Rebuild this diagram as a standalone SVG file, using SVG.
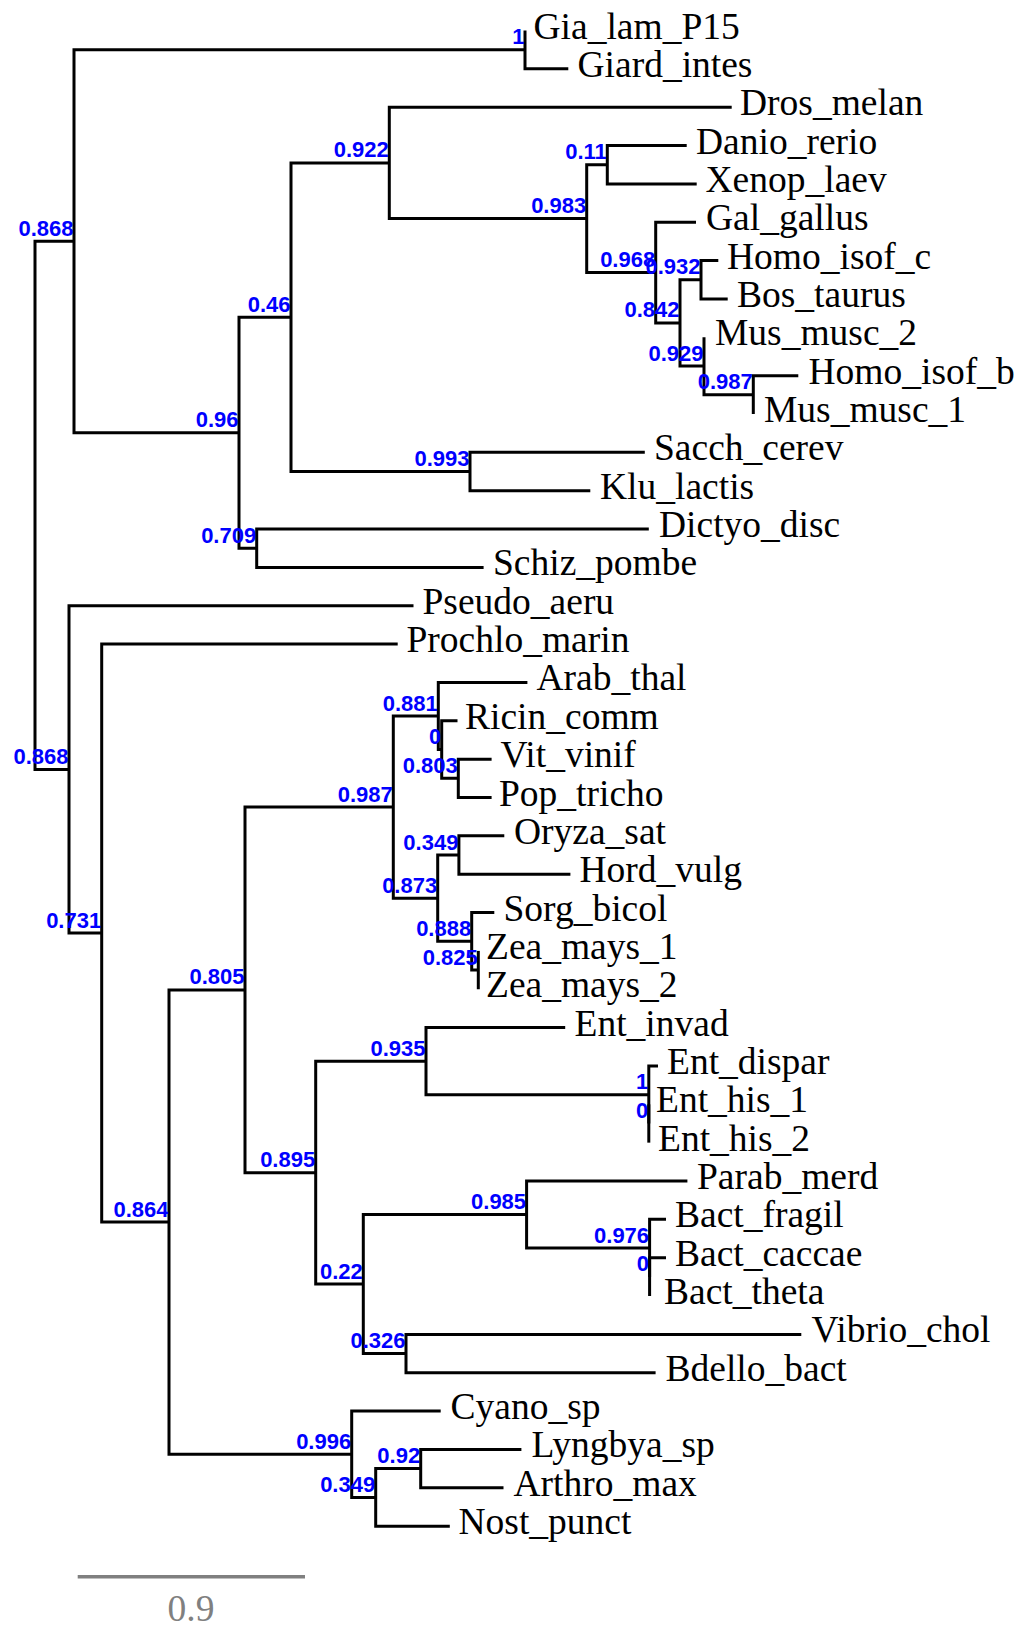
<svg xmlns="http://www.w3.org/2000/svg" width="1021" height="1627" viewBox="0 0 1021 1627">
  <style>
    .br { fill: none; stroke: #000; stroke-width: 3; stroke-linejoin: miter; stroke-linecap: butt; }
    .leaf { font-family: "Liberation Serif", "Times New Roman", serif; font-size: 37.5px; fill: #000; }
    .sup { font-family: "Liberation Sans", Arial, sans-serif; font-weight: bold; font-size: 22px; fill: #0000ff; text-anchor: end; }
    .scale { fill: none; stroke: #808080; stroke-width: 3.5; }
    .scaletxt { font-family: "Liberation Serif", "Times New Roman", serif; font-size: 37.5px; fill: #808080; text-anchor: middle; }
  </style>
  <rect width="1021" height="1627" fill="#fff"/>

  <!-- branches: one path per internal node, from its top child to its bottom child -->
  <g id="connectors">
    <path class="br" d="M74 241.2 H35 V769.4 H69"/>
    <path class="br" d="M525 49.7 H74 V432.7 H239"/>
    <path class="br" d="M525 30.5 V68.85 H568.3"/>
    <path class="br" d="M291 317.2 H239 V548.2 H256.7"/>
    <path class="br" d="M389.3 162.9 H291 V471.5 H470"/>
    <path class="br" d="M731.7 107.2 H389.3 V218.6 H586.7"/>
    <path class="br" d="M607.3 164.7 H586.7 V272.6 H655.7"/>
    <path class="br" d="M686.7 145.55 H607.3 V183.9 H696.7"/>
    <path class="br" d="M696 222.25 H655.7 V322.9 H680"/>
    <path class="br" d="M701 279.8 H680 V366.1 H704"/>
    <path class="br" d="M718.3 260.6 H701 V298.95 H727.7"/>
    <path class="br" d="M704 337.3 V394.8 H753.3"/>
    <path class="br" d="M798.3 375.65 H753.3 V414"/>
    <path class="br" d="M644.8 452.35 H470 V490.7 H590.3"/>
    <path class="br" d="M648.8 529.05 H256.7 V567.4 H483.6"/>
    <path class="br" d="M413.5 605.75 H69 V933.1 H101.7"/>
    <path class="br" d="M397.7 644.1 H101.7 V1222.1 H169"/>
    <path class="br" d="M245 989.9 H169 V1454.25 H351.7"/>
    <path class="br" d="M393.3 807.1 H245 V1172.7 H315.7"/>
    <path class="br" d="M438.3 716 H393.3 V898.2 H437.7"/>
    <path class="br" d="M527.4 682.45 H438.3 V749.6 H441.7"/>
    <path class="br" d="M457.5 720.8 H441.7 V778.3 H458.3"/>
    <path class="br" d="M491.6 759.15 H458.3 V797.5 H491.6"/>
    <path class="br" d="M458.9 855 H437.7 V941.3 H471.7"/>
    <path class="br" d="M504.3 835.85 H458.9 V874.2 H570.4"/>
    <path class="br" d="M494.3 912.55 H471.7 V970.1 H478.3"/>
    <path class="br" d="M478.3 950.9 V989.25"/>
    <path class="br" d="M426 1061.2 H315.7 V1284.1 H363.3"/>
    <path class="br" d="M565.2 1027.6 H426 V1094.7 H648.8"/>
    <path class="br" d="M658 1065.95 H648.8 V1123.5"/>
    <path class="br" d="M648.8 1104.3 V1142.65"/>
    <path class="br" d="M526.6 1214.6 H363.3 V1353.6 H406"/>
    <path class="br" d="M687.4 1181 H526.6 V1248.1 H649.6"/>
    <path class="br" d="M666 1219.35 H649.6 V1276.9"/>
    <path class="br" d="M666 1257.7 H649.6 V1296.05"/>
    <path class="br" d="M801.3 1334.4 H406 V1372.75 H655.6"/>
    <path class="br" d="M440.7 1411.1 H351.7 V1497.4 H375.7"/>
    <path class="br" d="M420.7 1468.6 H375.7 V1526.15 H449.8"/>
    <path class="br" d="M521.4 1449.45 H420.7 V1487.8 H503.5"/>
  </g>

  <!-- internal nodes with support values -->
  <g id="n-giardia"><text class="sup" x="524.5" y="44.2">1</text></g>
  <g id="n-0868a"><text class="sup" x="73.5" y="235.7">0.868</text></g>
  <g id="n-096"><text class="sup" x="238.5" y="427.2">0.96</text></g>
  <g id="n-046"><text class="sup" x="290.5" y="311.7">0.46</text></g>
  <g id="n-0922"><text class="sup" x="388.8" y="157.4">0.922</text></g>
  <g id="n-0983"><text class="sup" x="586.2" y="213.1">0.983</text></g>
  <g id="n-011"><text class="sup" x="606.8" y="159.2">0.11</text></g>
  <g id="n-0968"><text class="sup" x="655.2" y="267.1">0.968</text></g>
  <g id="n-0842"><text class="sup" x="679.5" y="317.4">0.842</text></g>
  <g id="n-0932"><text class="sup" x="700.5" y="274.3">0.932</text></g>
  <g id="n-0929"><text class="sup" x="703.5" y="360.6">0.929</text></g>
  <g id="n-0987a"><text class="sup" x="752.8" y="389.3">0.987</text></g>
  <g id="n-0993"><text class="sup" x="469.5" y="466">0.993</text></g>
  <g id="n-0709"><text class="sup" x="256.2" y="542.7">0.709</text></g>
  <g id="n-0868b"><text class="sup" x="68.5" y="763.9">0.868</text></g>
  <g id="n-0731"><text class="sup" x="101.2" y="927.6">0.731</text></g>
  <g id="n-0864"><text class="sup" x="168.5" y="1216.6">0.864</text></g>
  <g id="n-0805"><text class="sup" x="244.5" y="984.4">0.805</text></g>
  <g id="n-0987b"><text class="sup" x="392.8" y="801.6">0.987</text></g>
  <g id="n-0881"><text class="sup" x="437.8" y="710.5">0.881</text></g>
  <g id="n-0a"><text class="sup" x="441.2" y="744.1">0</text></g>
  <g id="n-0803"><text class="sup" x="457.8" y="772.8">0.803</text></g>
  <g id="n-0873"><text class="sup" x="437.2" y="892.7">0.873</text></g>
  <g id="n-0349a"><text class="sup" x="458.4" y="849.5">0.349</text></g>
  <g id="n-0888"><text class="sup" x="471.2" y="935.8">0.888</text></g>
  <g id="n-0825"><text class="sup" x="477.8" y="964.6">0.825</text></g>
  <g id="n-0895"><text class="sup" x="315.2" y="1167.2">0.895</text></g>
  <g id="n-0935"><text class="sup" x="425.5" y="1055.7">0.935</text></g>
  <g id="n-1ent"><text class="sup" x="648.3" y="1089.2">1</text></g>
  <g id="n-0ent"><text class="sup" x="648.3" y="1118">0</text></g>
  <g id="n-022"><text class="sup" x="362.8" y="1278.6">0.22</text></g>
  <g id="n-0985"><text class="sup" x="526.1" y="1209.1">0.985</text></g>
  <g id="n-0976"><text class="sup" x="649.1" y="1242.6">0.976</text></g>
  <g id="n-0bact"><text class="sup" x="649.1" y="1271.4">0</text></g>
  <g id="n-0326"><text class="sup" x="405.5" y="1348.1">0.326</text></g>
  <g id="n-0996"><text class="sup" x="351.2" y="1448.75">0.996</text></g>
  <g id="n-0349b"><text class="sup" x="375.2" y="1491.9">0.349</text></g>
  <g id="n-092"><text class="sup" x="420.2" y="1463.1">0.92</text></g>

  <!-- leaves -->
  <g id="leaf-Gia_lam_P15"><text class="leaf" x="533.5" y="38.5">Gia_lam_P15</text></g>
  <g id="leaf-Giard_intes"><text class="leaf" x="577.5" y="76.85">Giard_intes</text></g>
  <g id="leaf-Dros_melan"><text class="leaf" x="740" y="115.2">Dros_melan</text></g>
  <g id="leaf-Danio_rerio"><text class="leaf" x="696" y="153.55">Danio_rerio</text></g>
  <g id="leaf-Xenop_laev"><text class="leaf" x="705.5" y="191.9">Xenop_laev</text></g>
  <g id="leaf-Gal_gallus"><text class="leaf" x="706" y="230.25">Gal_gallus</text></g>
  <g id="leaf-Homo_isof_c"><text class="leaf" x="727" y="268.6">Homo_isof_c</text></g>
  <g id="leaf-Bos_taurus"><text class="leaf" x="737" y="306.95">Bos_taurus</text></g>
  <g id="leaf-Mus_musc_2"><text class="leaf" x="715" y="345.3">Mus_musc_2</text></g>
  <g id="leaf-Homo_isof_b"><text class="leaf" x="808.5" y="383.65">Homo_isof_b</text></g>
  <g id="leaf-Mus_musc_1"><text class="leaf" x="764" y="422">Mus_musc_1</text></g>
  <g id="leaf-Sacch_cerev"><text class="leaf" x="654" y="460.35">Sacch_cerev</text></g>
  <g id="leaf-Klu_lactis"><text class="leaf" x="600" y="498.7">Klu_lactis</text></g>
  <g id="leaf-Dictyo_disc"><text class="leaf" x="659" y="537.05">Dictyo_disc</text></g>
  <g id="leaf-Schiz_pombe"><text class="leaf" x="493" y="575.4">Schiz_pombe</text></g>
  <g id="leaf-Pseudo_aeru"><text class="leaf" x="422.5" y="613.75">Pseudo_aeru</text></g>
  <g id="leaf-Prochlo_marin"><text class="leaf" x="406.5" y="652.1">Prochlo_marin</text></g>
  <g id="leaf-Arab_thal"><text class="leaf" x="536.5" y="690.45">Arab_thal</text></g>
  <g id="leaf-Ricin_comm"><text class="leaf" x="465" y="728.8">Ricin_comm</text></g>
  <g id="leaf-Vit_vinif"><text class="leaf" x="500.5" y="767.15">Vit_vinif</text></g>
  <g id="leaf-Pop_tricho"><text class="leaf" x="499" y="805.5">Pop_tricho</text></g>
  <g id="leaf-Oryza_sat"><text class="leaf" x="514" y="843.85">Oryza_sat</text></g>
  <g id="leaf-Hord_vulg"><text class="leaf" x="579.5" y="882.2">Hord_vulg</text></g>
  <g id="leaf-Sorg_bicol"><text class="leaf" x="503.5" y="920.55">Sorg_bicol</text></g>
  <g id="leaf-Zea_mays_1"><text class="leaf" x="486" y="958.9">Zea_mays_1</text></g>
  <g id="leaf-Zea_mays_2"><text class="leaf" x="486" y="997.25">Zea_mays_2</text></g>
  <g id="leaf-Ent_invad"><text class="leaf" x="574.5" y="1035.6">Ent_invad</text></g>
  <g id="leaf-Ent_dispar"><text class="leaf" x="667" y="1073.95">Ent_dispar</text></g>
  <g id="leaf-Ent_his_1"><text class="leaf" x="656" y="1112.3">Ent_his_1</text></g>
  <g id="leaf-Ent_his_2"><text class="leaf" x="658" y="1150.65">Ent_his_2</text></g>
  <g id="leaf-Parab_merd"><text class="leaf" x="697" y="1189">Parab_merd</text></g>
  <g id="leaf-Bact_fragil"><text class="leaf" x="675" y="1227.35">Bact_fragil</text></g>
  <g id="leaf-Bact_caccae"><text class="leaf" x="675" y="1265.7">Bact_caccae</text></g>
  <g id="leaf-Bact_theta"><text class="leaf" x="664" y="1304.05">Bact_theta</text></g>
  <g id="leaf-Vibrio_chol"><text class="leaf" x="811.5" y="1342.4">Vibrio_chol</text></g>
  <g id="leaf-Bdello_bact"><text class="leaf" x="665.5" y="1380.75">Bdello_bact</text></g>
  <g id="leaf-Cyano_sp"><text class="leaf" x="450.5" y="1419.1">Cyano_sp</text></g>
  <g id="leaf-Lyngbya_sp"><text class="leaf" x="531.5" y="1457.45">Lyngbya_sp</text></g>
  <g id="leaf-Arthro_max"><text class="leaf" x="513.5" y="1495.8">Arthro_max</text></g>
  <g id="leaf-Nost_punct"><text class="leaf" x="458.5" y="1534.15">Nost_punct</text></g>

  <!-- scale bar -->
  <g id="scale-bar">
    <path class="scale" d="M77.7 1576.7 H305"/>
    <text class="scaletxt" x="191" y="1621">0.9</text>
  </g>
</svg>
